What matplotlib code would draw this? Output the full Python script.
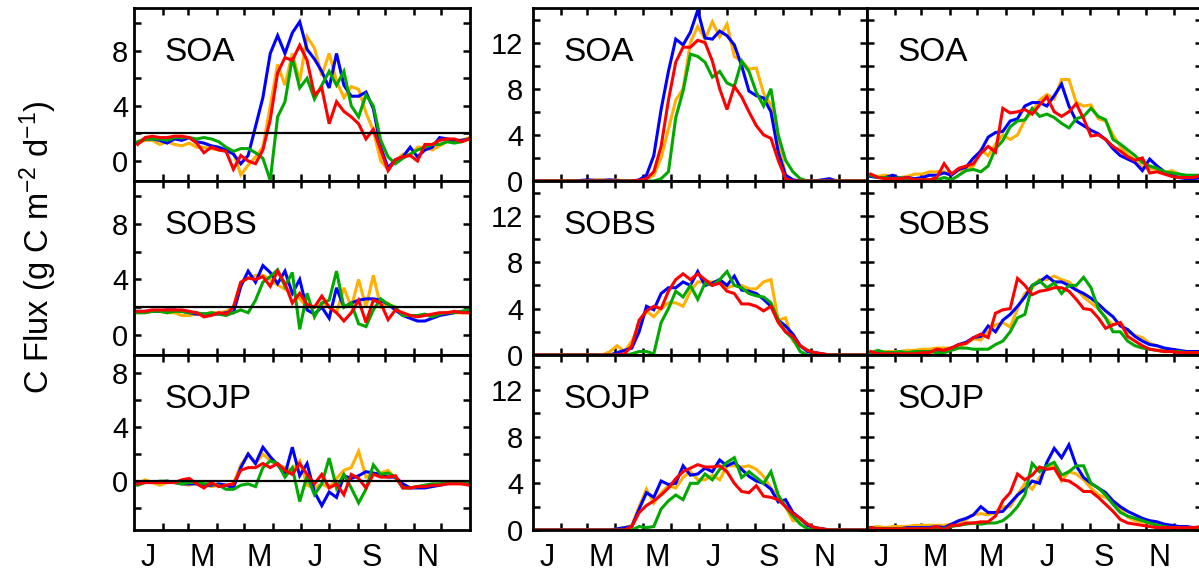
import numpy as np
import matplotlib
matplotlib.use('Agg')
import matplotlib.pyplot as plt
from matplotlib.ticker import FixedLocator, NullFormatter

plt.rcParams['font.family'] = ['Liberation Sans', 'DejaVu Sans']
plt.rcParams['mathtext.fontset'] = 'custom'
plt.rcParams['mathtext.rm'] = 'Liberation Sans'
plt.rcParams['mathtext.it'] = 'Liberation Sans:italic'
plt.rcParams['xtick.labelsize'] = 22
plt.rcParams['ytick.labelsize'] = 21

# 8-day composites, day of year of each value
days = np.arange(46) * 8 + 4
sites = ['SOA', 'SOBS', 'SOJP']
month_edges = [31, 59, 90, 120, 151, 181, 212, 243, 273, 304, 334]
month_mid = [15.5, 74.5, 135.5, 196.5, 258, 319]
month_lab = ['J', 'M', 'M', 'J', 'S', 'N']

# ---- left column (net flux), SOA
nep_soa_orange = [1.3, 1.5, 1.5, 1.2, 1.4, 1.2, 1.1, 1.3, 1.0, 1.0,
                  0.9, 0.8, 0.8, 0.6, -1.0, -0.3, 0.3, 1.0, 4.0, 7.0,
                  5.5, 7.8, 5.8, 9.0, 8.2, 6.2, 7.8, 5.8, 4.6, 5.4,
                  5.2, 3.5, 2.2, 0.0, -0.6, 0.0, 0.5, 0.4, 1.0, 1.0,
                  0.8, 1.1, 1.4, 1.5, 1.5, 1.7]
nep_soa_blue = [1.3, 1.6, 1.6, 1.5, 1.3, 1.6, 1.5, 1.7, 1.4, 1.3,
                1.1, 1.0, 0.8, 0.5, -0.2, 0.4, 2.5, 4.6, 7.8, 9.1,
                7.8, 9.3, 10.1, 8.1, 7.4, 6.5, 5.3, 7.8, 5.5, 4.7,
                4.7, 5.0, 3.8, 1.0, -0.5, 0.1, 0.3, 1.0, 0.3, 0.8,
                1.0, 1.7, 1.6, 1.5, 1.5, 1.6]
nep_soa_green = [1.4, 1.6, 1.6, 1.6, 1.5, 1.7, 1.7, 1.7, 1.6, 1.7,
                 1.6, 1.4, 1.0, 0.7, 0.9, 0.9, 0.6, 0.2, -1.4, 3.2,
                 4.3, 7.5, 5.3, 6.0, 4.5, 5.5, 6.5, 5.5, 6.5, 4.0,
                 3.2, 4.8, 4.0, 1.5, 0.3, -0.2, 0.2, 0.5, 0.8, 1.0,
                 1.2, 1.2, 1.4, 1.3, 1.4, 1.6]
nep_soa_red = [1.2, 1.7, 1.8, 1.7, 1.7, 1.8, 1.8, 1.7, 1.3, 0.6,
               1.0, 0.8, 0.7, -0.6, 0.4, 0.0, -0.2, 0.8, 3.0, 6.4,
               7.5, 7.3, 8.4, 7.3, 4.8, 5.3, 2.7, 4.3, 3.6, 3.2,
               2.7, 1.6, 2.3, 0.8, -0.7, 0.1, 0.3, 0.4, 0.0, 1.2,
               1.2, 1.5, 1.6, 1.6, 1.4, 1.6]

# ---- left column, SOBS
nep_sobs_orange = [1.6, 1.6, 1.7, 1.7, 1.6, 1.6, 1.4, 1.4, 1.5, 1.5,
                   1.6, 1.6, 1.7, 2.0, 3.8, 4.1, 4.3, 4.3, 4.0, 3.6,
                   3.3, 3.0, 2.6, 2.0, 2.0, 2.3, 2.0, 1.6, 3.4, 2.0,
                   4.0, 2.0, 4.3, 2.0, 2.3, 1.8, 1.5, 1.4, 1.4, 1.4,
                   1.4, 1.5, 1.6, 1.6, 1.6, 1.6]
nep_sobs_blue = [1.7, 1.7, 1.7, 1.7, 1.8, 1.8, 1.7, 1.6, 1.5, 1.5,
                 1.5, 1.5, 1.6, 1.6, 3.5, 4.6, 3.8, 5.0, 4.5, 3.7,
                 4.6, 3.0, 4.0, 1.8, 1.5, 2.0, 1.2, 3.4, 2.0, 2.3,
                 2.5, 2.6, 2.6, 2.5, 2.2, 1.8, 1.4, 1.2, 1.0, 1.0,
                 1.2, 1.4, 1.5, 1.6, 1.7, 1.7]
nep_sobs_green = [1.6, 1.6, 1.7, 1.7, 1.6, 1.7, 1.7, 1.6, 1.6, 1.5,
                  1.6, 1.5, 1.4, 1.6, 1.8, 1.6, 2.5, 3.8, 4.2, 4.7,
                  3.5, 4.5, 0.4, 3.0, 1.3, 2.3, 2.5, 4.6, 2.0, 2.3,
                  0.8, 0.6, 1.8, 2.6, 2.2, 2.0, 1.4, 1.4, 1.4, 1.5,
                  1.3, 1.5, 1.6, 1.6, 1.7, 1.8]
nep_sobs_red = [1.7, 1.7, 1.8, 1.8, 1.8, 1.8, 1.8, 1.7, 1.6, 1.3,
                1.4, 1.6, 1.5, 2.0, 3.8, 4.1, 4.0, 4.2, 3.5, 4.6,
                3.7, 2.3, 3.0, 2.2, 2.0, 2.8, 2.0, 1.6, 1.0, 1.6,
                2.5, 0.9, 2.5, 2.3, 1.1, 1.8, 1.6, 1.4, 1.3, 1.4,
                1.5, 1.6, 1.6, 1.7, 1.6, 1.6]

# ---- left column, SOJP
nep_sojp_orange = [-0.2, 0.1, -0.1, -0.3, -0.1, -0.1, -0.2, -0.3, -0.1, -0.2,
                   -0.4, -0.3, -0.3, -0.2, 1.2, 2.0, 1.3, 2.0, 1.5, 1.2,
                   1.0, 0.8, 1.5, -0.3, -0.5, -0.2, -0.5, 0.2, 0.8, 1.0,
                   2.2, 0.3, 0.5, 0.6, 0.8, 0.2, -0.2, -0.5, -0.4, -0.3,
                   -0.3, -0.2, -0.1, -0.1, -0.2, -0.2]
nep_sojp_blue = [-0.1, -0.1, -0.1, -0.1, 0.0, -0.1, -0.2, -0.2, -0.2, -0.3,
                 -0.3, -0.2, -0.3, -0.5, 1.0, 2.0, 1.3, 2.5, 1.8, 1.2,
                 0.5, 2.5, 0.4, 1.3, -0.8, -1.8, -0.8, -1.2, 0.4, 0.2,
                 0.4, 0.7, 0.6, 0.5, 0.3, 0.3, -0.2, -0.5, -0.5, -0.5,
                 -0.4, -0.3, -0.2, -0.1, -0.1, -0.1]
nep_sojp_green = [-0.3, -0.1, -0.1, 0.0, 0.0, -0.1, -0.2, -0.1, -0.1, -0.2,
                  -0.2, -0.3, -0.6, -0.6, -0.3, -0.2, -0.4, 1.0, 1.5, 1.3,
                  0.3, 1.0, -1.5, 0.4, -1.0, -0.2, 1.7, -0.5, 0.5, -0.5,
                  -1.6, -0.6, 1.2, 0.5, 0.6, 0.3, -0.5, -0.5, -0.4, -0.3,
                  -0.2, -0.2, -0.1, -0.1, -0.1, -0.2]
nep_sojp_red = [-0.2, -0.1, -0.1, -0.1, -0.1, -0.1, 0.1, 0.2, -0.2, -0.5,
                -0.1, -0.4, -0.3, -0.2, 0.8, 1.0, 1.0, 1.3, 1.0, 1.3,
                0.8, 0.5, 1.3, 0.5, -0.2, 0.5, -0.5, -0.2, -1.0, 0.5,
                0.2, -0.5, 0.5, 0.3, 0.3, 0.4, -0.5, -0.5, -0.4, -0.4,
                -0.3, -0.3, -0.2, -0.2, -0.2, -0.3]

# ---- middle column (uptake), SOA
gpp_soa_orange = [0, 0, 0, 0, 0, 0, 0, 0.05, 0.1, 0.1,
                  0.05, 0.1, 0, 0, 0.05, 0.2, 0.5, 2.0, 4.5, 7.0,
                  8.0, 12.0, 13.4, 12.3, 13.8, 12.5, 13.6, 10.8, 10.4, 9.7,
                  9.8, 7.6, 6.6, 3.5, 0.5, 0.1, 0, 0, 0, 0,
                  0, 0, 0, 0, 0, 0]
gpp_soa_blue = [0, 0, 0, 0, 0, 0, 0.05, 0.1, 0.05, 0.05,
                0.1, 0.05, 0, 0, 0.1, 0.5, 2.2, 6.2, 9.5, 12.3,
                11.8, 12.9, 14.8, 12.4, 12.3, 13.0, 12.6, 11.8, 10.0, 7.8,
                7.4, 7.2, 6.0, 2.5, 0.5, 0.1, 0, 0, 0, 0.1,
                0.2, 0, 0, 0, 0, 0]
gpp_soa_green = [0, 0, 0, 0, 0, 0, 0, 0, 0, 0,
                 0, 0, 0, 0, 0, 0, 0, 0.2, 0.8, 5.5,
                 7.8, 11.0, 10.8, 10.3, 9.0, 9.5, 8.5, 8.2, 10.4, 9.5,
                 7.7, 6.5, 8.0, 4.0, 1.8, 0.8, 0.2, 0, 0, 0,
                 0, 0, 0, 0, 0, 0]
gpp_soa_red = [0, 0, 0, 0, 0, 0, 0, 0, 0, 0,
               0, 0, 0, 0, 0.05, 0.2, 0.8, 3.0, 7.0, 10.3,
               11.6, 11.6, 12.2, 12.0, 10.4, 8.0, 6.2, 8.2, 7.3, 6.0,
               4.8, 4.0, 3.7, 1.8, 0.2, 0, 0, 0, 0, 0,
               0, 0, 0, 0, 0, 0]

# ---- middle column, SOBS
gpp_sobs_orange = [0, 0, 0, 0, 0, 0, 0, 0, 0, 0,
                   0.3, 0.8, 0.3, 1.2, 2.5, 3.8, 3.3, 4.0, 4.5, 4.5,
                   4.2, 5.5, 6.3, 6.3, 6.3, 6.3, 5.8, 6.0, 6.0, 5.7,
                   5.7, 6.3, 6.5, 3.0, 3.2, 1.2, 0.8, 0.4, 0.2, 0.1,
                   0, 0, 0, 0, 0, 0]
gpp_sobs_blue = [0, 0, 0, 0, 0, 0, 0, 0, 0, 0,
                 0, 0.2, 0.4, 0.6, 2.0, 4.2, 3.9, 5.3, 5.8, 5.8,
                 6.3, 6.0, 7.2, 6.0, 6.2, 6.5, 6.0, 6.8, 5.6, 5.5,
                 5.3, 4.8, 4.2, 3.0, 2.5, 1.8, 0.8, 0.3, 0.2, 0.1,
                 0, 0, 0, 0, 0, 0]
gpp_sobs_green = [0, 0, 0, 0, 0, 0, 0, 0, 0, 0,
                  0, 0, 0, 0.1, 0.3, 0.3, 0.1, 2.8, 4.0, 5.5,
                  5.0, 6.0, 4.8, 6.2, 6.0, 6.5, 7.2, 6.0, 5.8, 5.3,
                  5.1, 5.0, 4.5, 3.0, 2.0, 1.4, 0.3, 0, 0, 0,
                  0, 0, 0, 0, 0, 0]
gpp_sobs_red = [0, 0, 0, 0, 0, 0, 0, 0, 0, 0,
                0, 0, 0.1, 0.8, 3.0, 3.8, 4.2, 4.0, 5.5, 6.5,
                7.0, 6.5, 7.0, 6.5, 6.0, 6.2, 5.5, 5.3, 4.4, 4.4,
                4.2, 3.8, 4.2, 2.8, 2.0, 1.6, 0.8, 0.4, 0.2, 0.1,
                0, 0, 0, 0, 0, 0]

# ---- middle column, SOJP
gpp_sojp_orange = [0, 0, 0, 0, 0, 0, 0, 0, 0, 0,
                   0, 0.1, 0.2, 0.4, 2.0, 3.5, 2.3, 3.2, 3.8, 3.6,
                   4.5, 5.0, 4.3, 4.3, 4.7, 4.3, 5.5, 5.5, 5.4, 5.5,
                   5.2, 4.6, 3.6, 2.9, 2.0, 0.8, 0.8, 0.5, 0.2, 0.1,
                   0, 0, 0, 0, 0, 0]
gpp_sojp_blue = [0, 0, 0, 0, 0, 0, 0, 0, 0, 0,
                 0, 0.1, 0.2, 0.3, 1.8, 3.2, 2.8, 4.2, 3.9, 4.0,
                 5.5, 4.7, 4.8, 5.3, 5.0, 6.0, 5.5, 5.8, 5.2, 4.6,
                 4.2, 4.0, 3.5, 2.4, 2.6, 1.5, 1.0, 0.4, 0.2, 0.1,
                 0, 0, 0, 0, 0, 0]
gpp_sojp_green = [0, 0, 0, 0, 0, 0, 0, 0, 0, 0,
                  0, 0, 0, 0, 0.3, 0.2, 0.3, 1.8, 2.5, 3.0,
                  2.6, 4.0, 4.0, 4.8, 4.3, 5.2, 5.8, 6.2, 4.5, 5.0,
                  4.5, 4.0, 5.0, 3.0, 2.0, 1.2, 0.5, 0.1, 0, 0,
                  0, 0, 0, 0, 0, 0]
gpp_sojp_red = [0, 0, 0, 0, 0, 0, 0, 0, 0, 0,
                0, 0, 0, 0.3, 1.5, 2.1, 2.5, 3.0, 3.6, 4.4,
                5.0, 5.3, 5.6, 5.4, 5.4, 5.5, 5.0, 4.0, 3.3, 3.2,
                3.8, 2.9, 2.8, 2.6, 2.0, 1.4, 1.0, 0.5, 0.2, 0.1,
                0, 0, 0, 0, 0, 0]

# ---- right column (respiration), SOA
re_soa_orange = [0.5, 0.4, 0.5, 0.4, 0.3, 0.4, 0.6, 0.6, 0.8, 0.8,
                 0.8, 0.6, 0.9, 1.0, 1.3, 2.7, 2.2, 3.2, 4.0, 3.6,
                 4.0, 5.3, 6.0, 7.0, 7.5, 7.1, 8.8, 8.8, 6.8, 6.5,
                 6.6, 5.4, 5.2, 4.0, 3.0, 2.3, 1.8, 1.2, 1.1, 1.0,
                 0.7, 0.9, 0.6, 0.4, 0.4, 0.5]
re_soa_blue = [0.4, 0.3, 0.3, 0.5, 0.2, 0.3, 0.2, 0.3, 0.5, 0.5,
               0.7, 0.5, 1.0, 1.2, 2.0, 2.6, 3.8, 4.2, 4.3, 5.2,
               5.4, 6.5, 6.8, 6.8, 6.5, 7.4, 8.4, 6.5, 5.2, 4.8,
               4.4, 4.1, 3.6, 2.8, 2.2, 1.9, 1.6, 0.9, 1.9, 1.3,
               0.8, 0.5, 0.3, 0.2, 0.2, 0.3]
re_soa_green = [0.5, 0.3, 0.3, 0.2, 0.3, 0.2, 0.1, 0.1, 0.1, 0.1,
                0.3, 0.1, 0.5, 0.9, 1.0, 0.8, 1.3, 2.8, 3.5, 4.7,
                5.2, 5.3, 6.3, 5.6, 5.8, 5.5, 5.0, 4.6, 5.4, 5.6,
                6.3, 5.6, 5.3, 3.6, 3.2, 2.7, 2.2, 1.6, 1.3, 1.1,
                0.8, 0.7, 0.6, 0.5, 0.5, 0.5]
re_soa_red = [0.6, 0.3, 0.2, 0.2, 0.2, 0.3, 0.1, 0.1, 0.1, 0.3,
              1.5, 0.6, 1.1, 1.3, 1.5, 2.4, 3.0, 2.5, 6.3, 5.9,
              6.0, 6.2, 5.8, 6.6, 7.3, 6.0, 5.6, 6.0, 6.7, 5.4,
              3.9, 4.0, 3.6, 3.0, 2.6, 2.1, 1.8, 2.0, 0.7, 0.8,
              0.6, 0.4, 0.3, 0.3, 0.3, 0.5]

# ---- right column, SOBS
re_sobs_orange = [0.2, 0.3, 0.3, 0.3, 0.3, 0.4, 0.4, 0.5, 0.5, 0.6,
                  0.6, 0.6, 0.7, 1.0, 1.4, 1.3, 2.0, 2.6, 2.8, 2.4,
                  4.0, 5.3, 5.8, 6.5, 6.5, 6.8, 6.5, 6.3, 5.7, 5.0,
                  4.5, 4.0, 3.2, 2.6, 2.8, 2.0, 1.7, 1.5, 1.0, 0.8,
                  0.5, 0.4, 0.4, 0.3, 0.3, 0.3]
re_sobs_blue = [0.2, 0.2, 0.2, 0.2, 0.2, 0.2, 0.2, 0.2, 0.3, 0.3,
                0.4, 0.6, 0.9, 1.1, 1.5, 1.6, 2.5, 2.0, 3.0, 3.5,
                4.2, 5.0, 6.0, 6.3, 6.8, 6.3, 6.3, 6.0, 5.6, 5.3,
                4.9, 4.4, 3.8, 3.3, 2.5, 2.2, 1.6, 1.2, 0.9, 0.8,
                0.6, 0.5, 0.4, 0.3, 0.3, 0.3]
re_sobs_green = [0.2, 0.4, 0.2, 0.2, 0.3, 0.2, 0.3, 0.3, 0.3, 0.2,
                 0.2, 0.4, 0.6, 0.6, 0.5, 0.5, 0.5, 0.9, 1.2, 2.0,
                 3.2, 3.5, 6.0, 6.4, 5.8, 6.2, 5.3, 6.0, 6.0, 6.7,
                 5.8, 4.0, 3.2, 2.0, 2.0, 1.2, 0.8, 0.6, 0.5, 0.4,
                 0.3, 0.3, 0.3, 0.2, 0.2, 0.2]
re_sobs_red = [0.3, 0.1, 0.1, 0.1, 0.1, 0.1, 0.1, 0.2, 0.2, 0.5,
               0.4, 0.6, 0.9, 1.0, 1.5, 1.8, 1.5, 3.6, 3.9, 4.0,
               6.6, 6.0, 5.2, 5.5, 5.6, 5.8, 5.8, 5.5, 4.8, 4.0,
               3.9, 3.2, 2.3, 2.6, 2.8, 1.6, 1.2, 0.8, 0.5, 0.4,
               0.3, 0.3, 0.2, 0.2, 0.2, 0.2]

# ---- right column, SOJP
re_sojp_orange = [0.2, 0.3, 0.2, 0.3, 0.3, 0.3, 0.4, 0.4, 0.4, 0.4,
                  0.4, 0.5, 0.6, 0.9, 1.3, 1.4, 1.3, 1.5, 2.0, 2.0,
                  3.0, 4.0, 3.5, 4.5, 5.3, 5.5, 4.2, 5.0, 4.8, 4.3,
                  3.6, 3.0, 2.8, 2.4, 1.8, 1.1, 0.8, 0.7, 0.6, 0.5,
                  0.4, 0.3, 0.3, 0.2, 0.2, 0.2]
re_sojp_blue = [0.2, 0.1, 0.1, 0.1, 0.1, 0.2, 0.2, 0.2, 0.2, 0.3,
                0.2, 0.5, 0.8, 1.0, 1.3, 2.0, 1.5, 1.5, 1.6, 2.3,
                3.0, 3.5, 4.2, 4.0, 5.8, 7.0, 6.2, 7.3, 5.5, 4.5,
                4.0, 3.6, 3.2, 2.5, 2.0, 1.6, 1.3, 1.0, 0.8, 0.7,
                0.5, 0.4, 0.3, 0.3, 0.2, 0.2]
re_sojp_green = [0.2, 0.1, 0.1, 0.1, 0.1, 0.1, 0.1, 0.1, 0.1, 0.1,
                 0.1, 0.3, 0.4, 0.5, 0.6, 0.5, 0.6, 0.6, 0.8, 1.3,
                 2.0, 3.0, 5.7, 5.0, 5.5, 5.8, 4.7, 5.0, 5.5, 5.5,
                 4.0, 3.6, 3.0, 2.2, 1.5, 1.2, 1.0, 0.8, 0.6, 0.4,
                 0.3, 0.2, 0.2, 0.1, 0.1, 0.1]
re_sojp_red = [0.2, 0.1, 0.1, 0.1, 0.1, 0.1, 0.1, 0.1, 0.1, 0.3,
               0.0, 0.4, 0.4, 0.6, 0.6, 0.7, 0.7, 1.2, 2.5, 3.2,
               4.8, 4.3, 4.7, 5.4, 5.2, 5.3, 4.3, 4.2, 3.8, 3.3,
               3.3, 2.8, 2.2, 1.6, 0.9, 0.6, 0.5, 0.4, 0.3, 0.2,
               0.2, 0.2, 0.2, 0.2, 0.2, 0.3]

colours = ['#FFB000', '#0000FF', '#00A800', '#FF0000']

panels = [
    [(nep_soa_orange, nep_soa_blue, nep_soa_green, nep_soa_red),
     (gpp_soa_orange, gpp_soa_blue, gpp_soa_green, gpp_soa_red),
     (re_soa_orange, re_soa_blue, re_soa_green, re_soa_red)],
    [(nep_sobs_orange, nep_sobs_blue, nep_sobs_green, nep_sobs_red),
     (gpp_sobs_orange, gpp_sobs_blue, gpp_sobs_green, gpp_sobs_red),
     (re_sobs_orange, re_sobs_blue, re_sobs_green, re_sobs_red)],
    [(nep_sojp_orange, nep_sojp_blue, nep_sojp_green, nep_sojp_red),
     (gpp_sojp_orange, gpp_sojp_blue, gpp_sojp_green, gpp_sojp_red),
     (re_sojp_orange, re_sojp_blue, re_sojp_green, re_sojp_red)],
]
# reference line in the net flux panels
ref_lines = [2, 2, 0]
left_ylims = [(-1.45, 11.1), (-1.45, 11.1), (-3.6, 9.3)]

W, H = 1199, 577
fig = plt.figure(figsize=(W / 100, H / 100), dpi=100)

col_x = [(134, 470), (533, 867), (867, 1202)]
row_y = [(8, 181), (181, 355), (355, 530)]

for r in range(3):
    for c in range(3):
        x0, x1 = col_x[c]
        y0, y1 = row_y[r]
        ax = fig.add_axes([x0 / W, 1 - y1 / H, (x1 - x0) / W, (y1 - y0) / H])
        for vals, col in zip(panels[r][c], colours):
            ax.plot(days, vals, color=col, lw=2.2, solid_joinstyle='miter')
        ax.set_xlim(0, 365)
        if c == 0:
            ax.set_ylim(*left_ylims[r])
            ax.axhline(ref_lines[r], color='black', lw=1.6, zorder=5)
            ax.yaxis.set_major_locator(FixedLocator([0, 4, 8]))
            ax.yaxis.set_minor_locator(FixedLocator([-2, 2, 6, 10]))
            pad_y = 4
        else:
            ax.set_ylim(0, 15)
            ax.yaxis.set_major_locator(FixedLocator([0, 4, 8, 12]))
            ax.yaxis.set_minor_locator(FixedLocator([2, 6, 10, 14]))
            pad_y = 7
        ax.xaxis.set_major_locator(FixedLocator(month_mid))
        ax.xaxis.set_minor_locator(FixedLocator(month_edges))
        if r == 2:
            ax.set_xticklabels(month_lab, fontsize=22)
        else:
            ax.xaxis.set_major_formatter(NullFormatter())
        if c == 2:
            ax.yaxis.set_major_formatter(NullFormatter())
        ax.tick_params(axis='x', which='major', length=0, labelsize=22, pad=9)
        ax.tick_params(axis='y', which='major', length=5, width=1.8,
                       direction='in', left=True, right=True,
                       labelsize=21, pad=pad_y)
        ax.tick_params(which='minor', length=5, width=1.8, direction='in',
                       top=True, bottom=True, left=True, right=True)
        for s in ax.spines.values():
            s.set_linewidth(2.0)
        ax.text(0.09, 0.745, sites[r], transform=ax.transAxes,
                fontsize=24, va='center', ha='left')

fig.text(0.032, 0.572, 'C Flux (g C m$^{-2}$ d$^{-1}$)', rotation=90,
         fontsize=23.5, ha='center', va='center')

fig.savefig('out.png', dpi=100)
